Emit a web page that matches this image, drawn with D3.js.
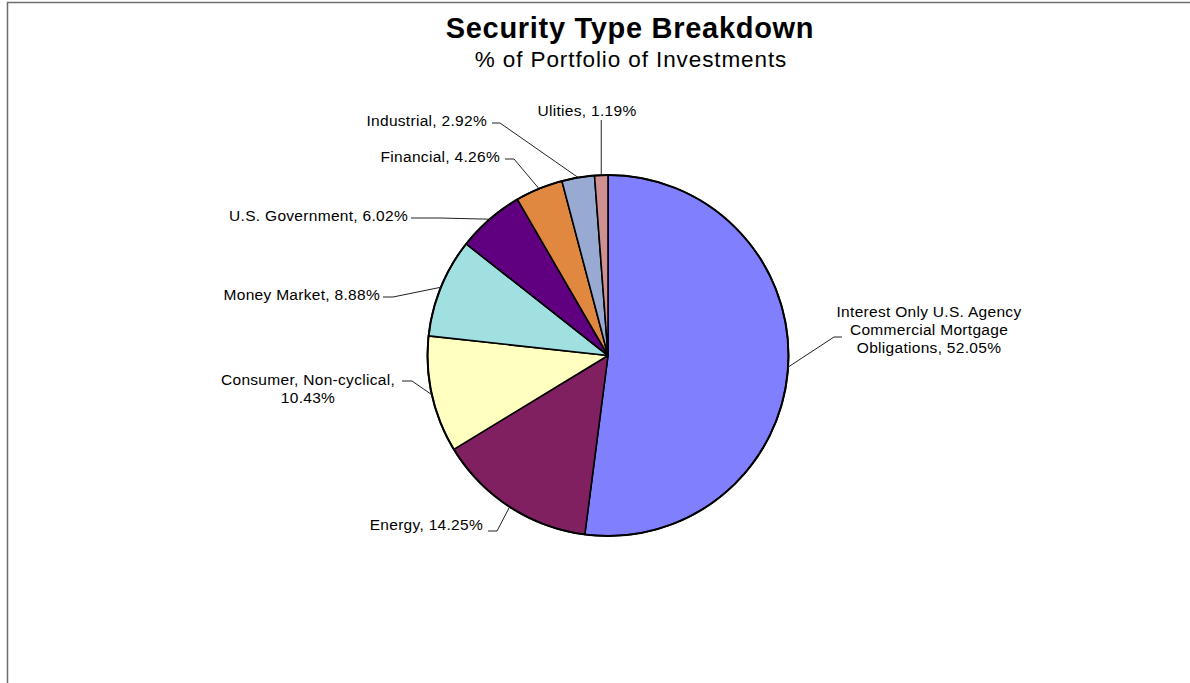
<!DOCTYPE html>
<html>
<head>
<meta charset="utf-8">
<script src="https://cdn.jsdelivr.net/npm/d3@7"></script>
<style>
  body { margin: 0; background: #fff; }
  svg { display: block; font-family: "Liberation Sans", Arial, sans-serif; }
</style>
</head>
<body>
<svg></svg>
<script>
// data
var categories = ['Interest Only U.S. Agency Commercial Mortgage Obligations', 'Energy',
                  'Consumer, Non-cyclical', 'Money Market', 'U.S. Government',
                  'Financial', 'Industrial', 'Ulities'];
var values = [52.05, 14.25, 10.43, 8.88, 6.02, 4.26, 2.92, 1.19];
var colors = ['#8080ff', '#802060', '#ffffc0', '#a0e0e0', '#600080', '#e08840', '#98aad2', '#d09090'];

// label text lines per slice (excel wraps some of them)
var labelLines = [
  ['Interest Only U.S. Agency', 'Commercial Mortgage', 'Obligations, 52.05%'],
  ['Energy, 14.25%'],
  ['Consumer, Non-cyclical,', '10.43%'],
  ['Money Market, 8.88%'],
  ['U.S. Government, 6.02%'],
  ['Financial, 4.26%'],
  ['Industrial, 2.92%'],
  ['Ulities, 1.19%']
];

// where each label sits and where its leader line bends
var labelPos = [
  {x: 929, y: 317, anchor: 'middle', elbow: [834, 337], end: [842, 337]},
  {x: 483, y: 530, anchor: 'end', elbow: [497, 531], end: [488, 531]},
  {x: 308, y: 385, anchor: 'middle', elbow: [412, 381], end: [402, 381]},
  {x: 380, y: 300, anchor: 'end', elbow: [393, 297], end: [383, 297]},
  {x: 408, y: 221, anchor: 'end', elbow: [440, 218], end: [411, 218]},
  {x: 500, y: 162, anchor: 'end', elbow: [514, 159], end: [505, 159]},
  {x: 487, y: 126, anchor: 'end', elbow: [500, 123], end: [492, 123]},
  {x: 587, y: 116, anchor: 'middle', elbow: null, end: null}
];

var svgWidth = 1190;
var svgHeight = 683;
var cx = 608, cy = 355.5, radius = 180.5;

var svg = d3.select('svg')
      .attr('width', svgWidth)
      .attr('height', svgHeight);

// chart area border (only top and left visible)
svg.append('rect')
   .attr('x', 7.5).attr('y', 2.5)
   .attr('width', 1300).attr('height', 800)
   .attr('fill', 'none')
   .attr('stroke', '#6e6e6e')
   .attr('stroke-width', 1.5);

svg.append('text')
   .attr('x', 630).attr('y', 38)
   .attr('text-anchor', 'middle')
   .attr('font-size', 29).attr('font-weight', 'bold')
   .attr('letter-spacing', 0.7)
   .text('Security Type Breakdown');

svg.append('text')
   .attr('x', 631).attr('y', 67)
   .attr('text-anchor', 'middle')
   .attr('font-size', 22.5)
   .attr('letter-spacing', 0.9)
   .text('% of Portfolio of Investments');

var pie = d3.pie().sort(null).value(d => d);
var arcs = pie(values);

var arc = d3.arc().innerRadius(0).outerRadius(radius);
var edge = d3.arc().innerRadius(radius).outerRadius(radius);

var g = svg.append('g').attr('transform', 'translate(' + cx + ',' + cy + ')');

g.selectAll('path.slice')
  .data(arcs)
  .enter()
  .append('path')
  .attr('class', 'slice')
  .attr('d', arc)
  .attr('fill', (d, i) => colors[i])
  .attr('stroke', '#000')
  .attr('stroke-width', 1.6)
  .attr('stroke-linejoin', 'round');

// heavier outer rim like the excel render
g.append('circle')
  .attr('r', radius)
  .attr('fill', 'none')
  .attr('stroke', '#000')
  .attr('stroke-width', 2);

// leader lines from the slice edge to the label
g.selectAll('path.leader')
  .data(arcs)
  .enter()
  .append('path')
  .attr('class', 'leader')
  .attr('fill', 'none')
  .attr('stroke', '#222')
  .attr('stroke-width', 1)
  .attr('d', (d, i) => {
    var p = edge.centroid(d);
    var lp = labelPos[i];
    var line = d3.path();
    line.moveTo(p[0], p[1]);
    if (lp.elbow) {
      line.lineTo(lp.elbow[0] - cx, lp.elbow[1] - cy);
      line.lineTo(lp.end[0] - cx, lp.end[1] - cy);
    } else {
      line.lineTo(p[0], lp.y + 4 - cy);
    }
    return line.toString();
  });

var labels = svg.selectAll('text.label')
  .data(arcs)
  .enter()
  .append('text')
  .attr('class', 'label')
  .attr('font-size', 15.5)
  .attr('letter-spacing', 0.3)
  .attr('fill', '#000')
  .attr('text-anchor', (d, i) => labelPos[i].anchor);

labels.selectAll('tspan')
  .data((d, i) => labelLines[i].map(t => ({t: t, i: i})))
  .enter()
  .append('tspan')
  .attr('x', d => labelPos[d.i].x)
  .attr('y', (d, j) => labelPos[d.i].y + j * 18)
  .text(d => d.t);
</script>
</body>
</html>
